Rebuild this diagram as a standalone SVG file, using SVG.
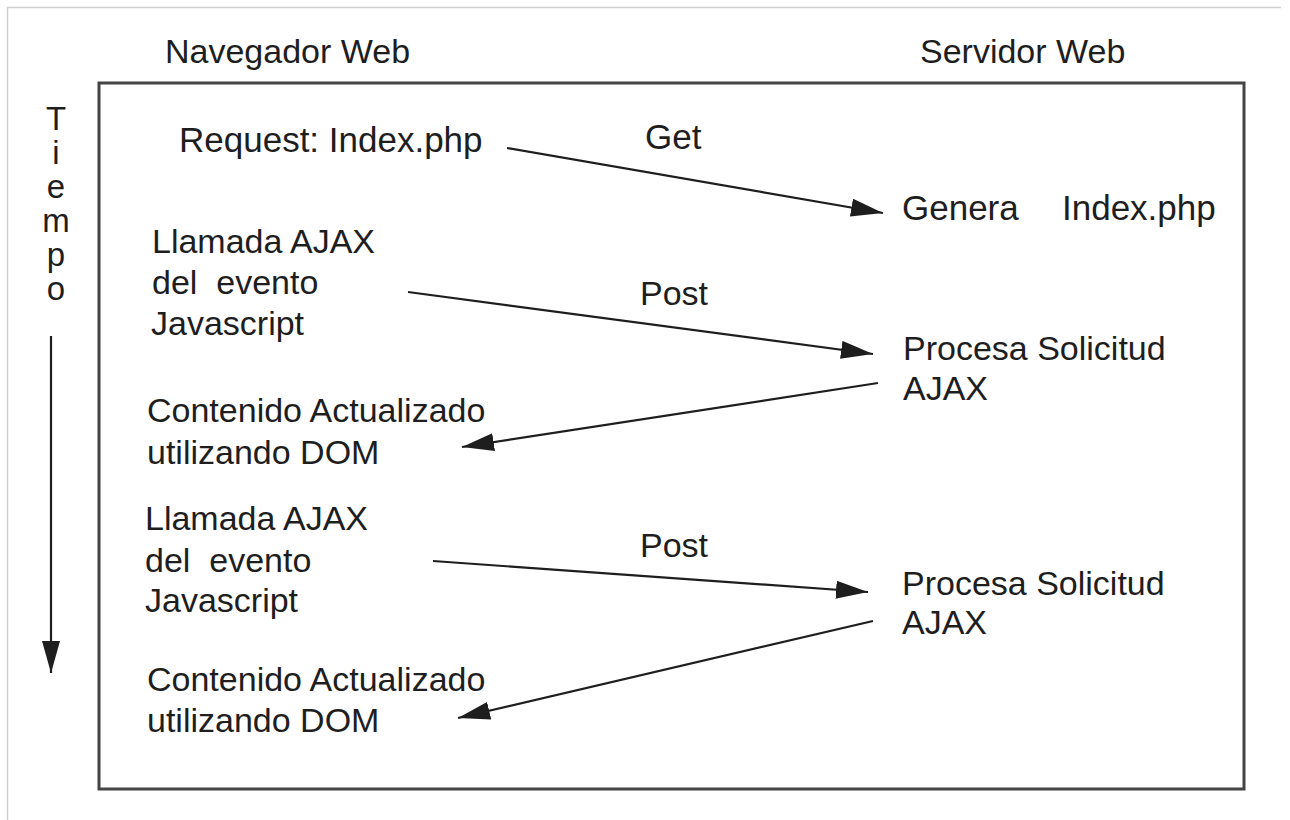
<svg xmlns="http://www.w3.org/2000/svg" width="1290" height="820" viewBox="0 0 1290 820">
<defs>
<style>
text { font-family: "Liberation Sans", Arial, sans-serif; font-size: 34px; fill: #1e1e1e; }
.hdr { font-size: 34px; }
.big { font-size: 35px; }
.tm { font-size: 33px; text-anchor: middle; }
.conn { stroke: #1e1e1e; stroke-width: 2.2; fill: none; marker-end: url(#ah); }
.frame { stroke: #d0d0d0; stroke-width: 1.5; fill: none; }
.box { stroke: #444; stroke-width: 3; fill: none; }
</style>
<marker id="ah" markerUnits="userSpaceOnUse" markerWidth="32" markerHeight="18" refX="32" refY="9" orient="auto" viewBox="0 0 32 18">
<path d="M0,0 L32,9 L0,18 Z" fill="#1e1e1e"/>
</marker>
</defs>
<rect width="1290" height="820" fill="#fff"/>
<path class="frame" d="M7.5,820 V7.5 H1281"/>
<rect id="container" class="box" x="99" y="83" width="1145" height="706"/>

<g id="headers">
<text class="hdr" x="165" y="63">Navegador Web</text>
<text class="hdr" x="920" y="63">Servidor Web</text>
</g>

<g id="tiempo">
<text class="tm" x="56" y="130">T</text>
<text class="tm" x="56" y="164">i</text>
<text class="tm" x="56" y="198">e</text>
<text class="tm" x="56" y="232">m</text>
<text class="tm" x="56" y="266">p</text>
<text class="tm" x="56" y="300">o</text>
</g>

<g id="n-request"><text class="big" x="179" y="152">Request: Index.php</text></g>
<g id="n-genera"><text class="big" x="902" y="220">Genera</text><text class="big" x="1062" y="220">Index.php</text></g>

<g id="n-llamada1">
<text x="152" y="253">Llamada AJAX</text>
<text x="152" y="294" xml:space="preserve">del  evento</text>
<text x="151" y="335">Javascript</text>
</g>
<g id="n-procesa1">
<text x="903" y="360">Procesa Solicitud</text>
<text x="903" y="400">AJAX</text>
</g>
<g id="n-contenido1">
<text x="147" y="422">Contenido Actualizado</text>
<text x="147" y="464">utilizando DOM</text>
</g>

<g id="n-llamada2">
<text x="145" y="530">Llamada AJAX</text>
<text x="145" y="572" xml:space="preserve">del  evento</text>
<text x="145" y="612">Javascript</text>
</g>
<g id="n-procesa2">
<text x="902" y="595">Procesa Solicitud</text>
<text x="902" y="634">AJAX</text>
</g>
<g id="n-contenido2">
<text x="147" y="691">Contenido Actualizado</text>
<text x="147" y="732">utilizando DOM</text>
</g>

<g id="connectors">
<line class="conn" x1="51" y1="336" x2="51" y2="673"/>
<line class="conn" x1="507" y1="148" x2="883" y2="213"/>
<line class="conn" x1="408" y1="292" x2="873" y2="354"/>
<line class="conn" x1="878" y1="383" x2="462" y2="447"/>
<line class="conn" x1="433" y1="561" x2="868" y2="592"/>
<line class="conn" x1="873" y1="621" x2="458" y2="718"/>
<text class="big" x="645" y="149">Get</text>
<text x="640" y="305">Post</text>
<text x="640" y="557">Post</text>
</g>
</svg>
